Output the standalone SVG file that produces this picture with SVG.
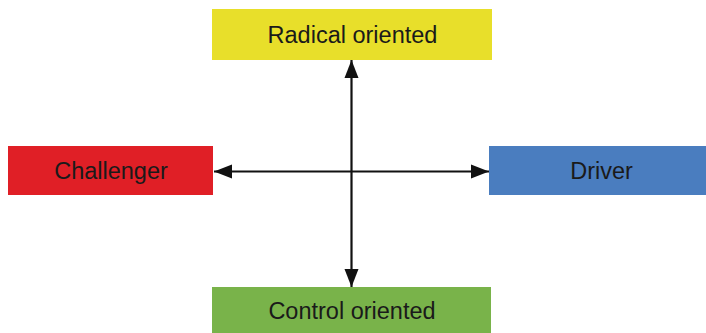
<svg xmlns="http://www.w3.org/2000/svg" width="706" height="333" viewBox="0 0 706 333">
<style>
.lbl{font-family:"Liberation Sans",Arial,sans-serif;font-size:23.5px;fill:#1a1a1a;text-anchor:middle;dominant-baseline:central}
.conn{stroke:#111;stroke-width:2.2;fill:none}
</style>
<rect width="706" height="333" fill="#fff"/>
<g id="radical">
<rect x="212" y="9" width="280" height="51" fill="#E8DF2A"/>
<text class="lbl" x="352.5" y="35">Radical oriented</text>
</g>
<g id="challenger">
<rect x="8" y="146" width="205" height="49" fill="#E01F26"/>
<text class="lbl" x="111" y="171">Challenger</text>
</g>
<g id="driver">
<rect x="489" y="146" width="217" height="49" fill="#4A7DBF"/>
<text class="lbl" x="601.5" y="171">Driver</text>
</g>
<g id="control">
<rect x="212" y="287" width="279" height="46" fill="#79B34A"/>
<text class="lbl" x="352" y="311">Control oriented</text>
</g>
<g id="connectors">
<path d="M214,171.5 H489" class="conn"/>
<path d="M351.5,60 V287" class="conn"/>
<polygon points="214,171.5 232,164.5 232,178.5" fill="#111"/>
<polygon points="489,171.5 471,164.5 471,178.5" fill="#111"/>
<polygon points="351.5,60 344.5,78 358.5,78" fill="#111"/>
<polygon points="351.5,287 344.5,269 358.5,269" fill="#111"/>
</g>
</svg>
